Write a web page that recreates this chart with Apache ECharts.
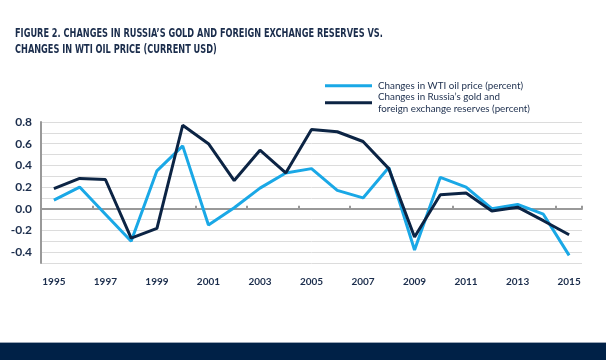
<!DOCTYPE html>
<html><head><meta charset="utf-8">
<script src="https://cdn.jsdelivr.net/npm/echarts@6/dist/echarts.min.js"></script>
<style>html,body{margin:0;padding:0;background:#fff}#c{width:606px;height:360px}</style>
</head><body><div id="c"></div>
<script>
const years = ['1995','1996','1997','1998','1999','2000','2001','2002','2003','2004','2005','2006','2007','2008','2009','2010','2011','2012','2013','2014','2015'];
const wtiChange = [0.08,0.20,-0.05,-0.30,0.35,0.58,-0.15,0.01,0.19,0.33,0.37,0.17,0.10,0.38,-0.38,0.29,0.20,0.00,0.04,-0.05,-0.43];
const reservesChange = [0.185,0.28,0.27,-0.27,-0.18,0.77,0.60,0.26,0.54,0.33,0.73,0.71,0.62,0.37,-0.26,0.13,0.145,-0.02,0.015,-0.11,-0.24];
const titleLines = "FIGURE 2. CHANGES IN RUSSIA\u2019S GOLD AND FOREIGN EXCHANGE RESERVES VS.\nCHANGES IN WTI OIL PRICE (CURRENT USD)";
const wtiName = "Changes in WTI oil price (percent)";
const resName = "Changes in Russia\u2019s gold and\nforeign exchange reserves (percent)";

const navy = '#0c2444', blue = '#1aa8e6', txt = '#1b2d4c';
const legendText = {fontFamily:'Lato, Open Sans, sans-serif',fontSize:9.8,lineHeight:12.3,color:txt,padding:[0,0,0,1]};
const chart = echarts.init(document.getElementById('c'), null, {renderer:'canvas'});
chart.setOption({
  animation:false,
  backgroundColor:'#fff',
  legend:[
    {orient:'vertical',left:320,top:74.5,itemWidth:47,itemHeight:3,icon:'rect',textStyle:legendText,data:[wtiName]},
    {orient:'vertical',left:320,top:85.5,itemWidth:47,itemHeight:3,icon:'rect',textStyle:legendText,data:[resName]}
  ],
  grid:{left:41,right:24,top:122,bottom:97},
  xAxis:[
    {type:'category',data:years,boundaryGap:true,position:'bottom',
     axisLine:{show:false,onZero:false},axisTick:{show:false},
     axisLabel:{interval:1,margin:14,fontFamily:'Lato, Open Sans, sans-serif',fontSize:10,fontWeight:'bold',color:txt},
     splitLine:{show:false}},
    {type:'category',data:years,boundaryGap:true,position:'bottom',
     axisLine:{show:true,onZero:true,lineStyle:{color:'#999',width:2}},
     axisTick:{show:true,inside:true,length:3,lineStyle:{color:'#999',width:2}},
     axisLabel:{show:false},splitLine:{show:false}}
  ],
  yAxis:{type:'value',min:-0.5,max:0.8,interval:0.1,
    axisLine:{show:true,lineStyle:{color:'#999',width:2}},axisTick:{show:false},
    axisLabel:{margin:9,fontFamily:'Lato, Open Sans, sans-serif',fontSize:12,fontWeight:'bold',color:txt,
      formatter:function(v){const k=Math.round(v*10);return (k%2===0)?(k/10).toFixed(1):'';}},
    splitLine:{show:true,lineStyle:{color:'#dcdcdc',width:1}}},
  series:[
    {name:wtiName,type:'line',data:wtiChange,xAxisIndex:0,symbol:'none',lineStyle:{color:blue,width:3},itemStyle:{color:blue},z:3},
    {name:resName,type:'line',data:reservesChange,xAxisIndex:0,symbol:'none',lineStyle:{color:navy,width:3},itemStyle:{color:navy},z:4}
  ],
  graphic:[
    {type:'text',left:15,top:25,scaleX:0.73,style:{text:titleLines,fontFamily:'Liberation Sans Narrow, DejaVu Sans Condensed, sans-serif',fontWeight:'bold',fontSize:12.5,lineHeight:16.5,fill:txt}},
    {type:'rect',shape:{x:0,y:343,width:606,height:17},style:{fill:'#002147'}},
    {type:'rect',shape:{x:0,y:342,width:606,height:1},style:{fill:'#9aa6b6'}}
  ]
});
</script></body></html>
